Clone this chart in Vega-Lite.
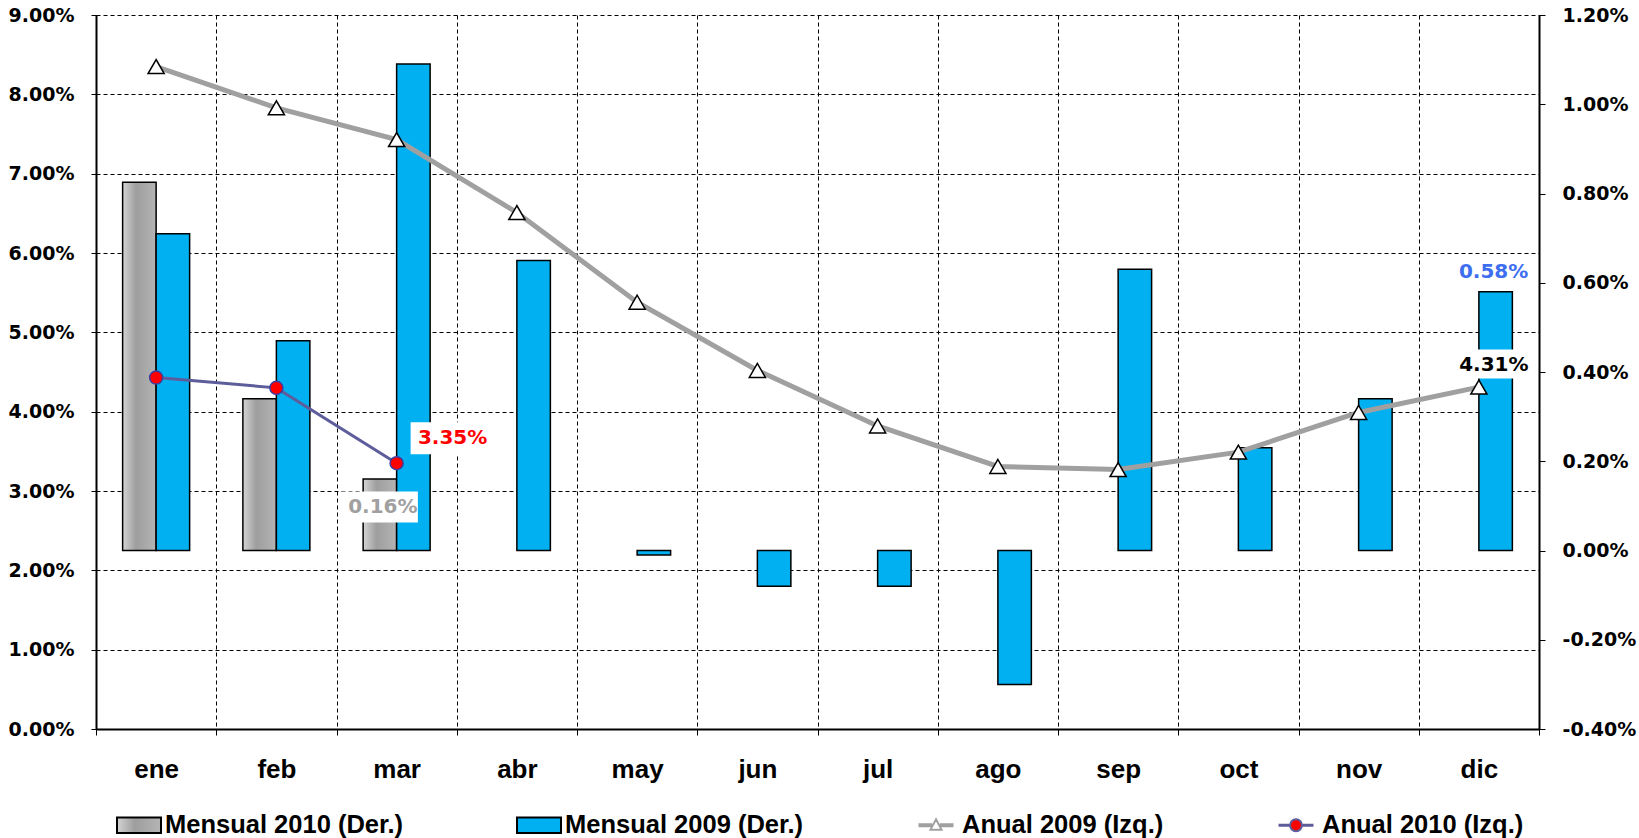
{
  "$schema": "https://vega.github.io/schema/vega-lite/v6.json",
  "width": 1443,
  "height": 714,
  "autosize": {"type": "none"},
  "padding": {"left": 96, "top": 15, "right": 100, "bottom": 109},
  "background": "white",
  "config": {
    "view": {"stroke": null},
    "axis": {"domainColor": "black", "tickColor": "black", "labelColor": "black", "labelFont": "DejaVu Sans", "labelFontWeight": "bold", "labelFontSize": 19, "title": null}
  },
  "datasets": {
    "rows": [
      {"month": "ene", "series": "Mensual 2010 (Der.)", "value": 0.00825},
      {"month": "feb", "series": "Mensual 2010 (Der.)", "value": 0.0034},
      {"month": "mar", "series": "Mensual 2010 (Der.)", "value": 0.0016},
      {"month": "ene", "series": "Mensual 2009 (Der.)", "value": 0.0071},
      {"month": "feb", "series": "Mensual 2009 (Der.)", "value": 0.0047},
      {"month": "mar", "series": "Mensual 2009 (Der.)", "value": 0.0109},
      {"month": "abr", "series": "Mensual 2009 (Der.)", "value": 0.0065},
      {"month": "may", "series": "Mensual 2009 (Der.)", "value": -0.0001},
      {"month": "jun", "series": "Mensual 2009 (Der.)", "value": -0.0008},
      {"month": "jul", "series": "Mensual 2009 (Der.)", "value": -0.0008},
      {"month": "ago", "series": "Mensual 2009 (Der.)", "value": -0.003},
      {"month": "sep", "series": "Mensual 2009 (Der.)", "value": 0.0063},
      {"month": "oct", "series": "Mensual 2009 (Der.)", "value": 0.0023},
      {"month": "nov", "series": "Mensual 2009 (Der.)", "value": 0.0034},
      {"month": "dic", "series": "Mensual 2009 (Der.)", "value": 0.0058},
      {"month": "ene", "series": "Anual 2009 (Izq.)", "value": 0.0835},
      {"month": "feb", "series": "Anual 2009 (Izq.)", "value": 0.0783},
      {"month": "mar", "series": "Anual 2009 (Izq.)", "value": 0.0743},
      {"month": "abr", "series": "Anual 2009 (Izq.)", "value": 0.0651},
      {"month": "may", "series": "Anual 2009 (Izq.)", "value": 0.0538},
      {"month": "jun", "series": "Anual 2009 (Izq.)", "value": 0.0452},
      {"month": "jul", "series": "Anual 2009 (Izq.)", "value": 0.0382},
      {"month": "ago", "series": "Anual 2009 (Izq.)", "value": 0.0331},
      {"month": "sep", "series": "Anual 2009 (Izq.)", "value": 0.0327},
      {"month": "oct", "series": "Anual 2009 (Izq.)", "value": 0.0349},
      {"month": "nov", "series": "Anual 2009 (Izq.)", "value": 0.0399},
      {"month": "dic", "series": "Anual 2009 (Izq.)", "value": 0.0431},
      {"month": "ene", "series": "Anual 2010 (Izq.)", "value": 0.0443},
      {"month": "feb", "series": "Anual 2010 (Izq.)", "value": 0.043},
      {"month": "mar", "series": "Anual 2010 (Izq.)", "value": 0.0335}
    ]
  },
  "data": {"name": "rows"},
  "encoding": {
    "x": {"field": "month", "type": "nominal", "scale": {"domain": ["ene","feb","mar","abr","may","jun","jul","ago","sep","oct","nov","dic"], "paddingInner": 0, "paddingOuter": 0},
      "axis": {"orient": "bottom", "tickBand": "extent", "grid": true, "gridColor": "black", "gridDash": [4, 3], "gridWidth": 1, "gridOpacity": 1, "domainWidth": 2, "tickSize": 6, "labelFont": "Liberation Sans", "labelFontSize": 26, "labelPadding": 21, "labelAngle": 0, "title": null}}
  },
  "layer": [
    {
      "encoding": {
        "y": {"field": "value", "type": "quantitative", "scale": {"domain": [-0.004, 0.012], "nice": false, "zero": false},
          "axis": {"orient": "right", "values": [-0.004, -0.002, 0, 0.002, 0.004, 0.006, 0.008, 0.01, 0.012], "labelExpr": "replace(format(datum.value, '.2%'), '\u2212', '-')", "grid": false, "domainWidth": 2, "tickSize": 6, "labelPadding": 17, "title": null}},
        "xOffset": {"field": "series", "type": "nominal", "scale": {"domain": ["Mensual 2010 (Der.)", "Mensual 2009 (Der.)"], "paddingInner": 0, "paddingOuter": 0.795}}
      },
      "layer": [
        {
          "transform": [{"filter": "indexof(datum.series, 'Mensual') === 0"}],
          "mark": {"type": "bar", "stroke": "black", "strokeWidth": 1.5},
          "encoding": {
            "fill": {"condition": {"test": "datum.series === 'Mensual 2010 (Der.)'", "value": {"gradient": "linear", "x1": 0, "y1": 0, "x2": 1, "y2": 0, "stops": [{"offset": 0, "color": "#d4d4d4"}, {"offset": 0.4, "color": "#9e9e9e"}, {"offset": 1, "color": "#b4b4b4"}]}}, "value": "#00B0F0"}
          }
        },
        {
          "transform": [{"filter": "datum.series === 'Mensual 2010 (Der.)' && datum.month === 'mar'"}],
          "mark": {"type": "point", "shape": "M-1,-0.408H1V0.408H-1Z", "size": 5776, "filled": true, "fill": "white", "opacity": 1, "strokeWidth": 0, "xOffset": 3, "yOffset": 28}
        },
        {
          "transform": [{"filter": "datum.series === 'Mensual 2010 (Der.)' && datum.month === 'mar'"}],
          "mark": {"type": "text", "font": "DejaVu Sans", "fontWeight": "bold", "fontSize": 20, "color": "#a0a0a0", "align": "center", "baseline": "middle", "dx": 3, "dy": 28},
          "encoding": {"text": {"field": "value", "type": "quantitative", "format": ".2%"}}
        },
        {
          "transform": [{"filter": "datum.series === 'Mensual 2009 (Der.)' && datum.month === 'dic'"}],
          "mark": {"type": "text", "font": "DejaVu Sans", "fontWeight": "bold", "fontSize": 20, "color": "#3d6ef0", "align": "center", "baseline": "middle", "dx": -2, "dy": -20},
          "encoding": {"text": {"field": "value", "type": "quantitative", "format": ".2%"}}
        }
      ]
    },
    {
      "encoding": {
        "y": {"field": "value", "type": "quantitative", "scale": {"domain": [0, 0.09], "nice": false, "zero": false},
          "axis": {"orient": "left", "values": [0, 0.01, 0.02, 0.03, 0.04, 0.05, 0.06, 0.07, 0.08, 0.09], "format": ".2%", "grid": true, "gridColor": "black", "gridDash": [4, 3], "gridWidth": 1, "gridOpacity": 1, "domainWidth": 2, "tickSize": 5, "labelPadding": 17, "title": null}}
      },
      "layer": [
        {
          "transform": [{"filter": "datum.series === 'Anual 2009 (Izq.)'"}],
          "mark": {"type": "line", "color": "#a0a0a0", "strokeWidth": 5},
          "encoding": {}
        },
        {
          "transform": [{"filter": "datum.series === 'Anual 2009 (Izq.)'"}],
          "mark": {"type": "point", "shape": "triangle-up", "size": 260, "filled": true, "fill": "white", "stroke": "black", "strokeWidth": 1.5, "opacity": 1},
          "encoding": {}
        },
        {
          "transform": [{"filter": "datum.series === 'Anual 2010 (Izq.)'"}],
          "mark": {"type": "line", "color": "#5d5d9c", "strokeWidth": 3},
          "encoding": {}
        },
        {
          "transform": [{"filter": "datum.series === 'Anual 2010 (Izq.)'"}],
          "mark": {"type": "point", "shape": "circle", "size": 170, "filled": true, "fill": "#ff0000", "stroke": "#3c3ca0", "strokeWidth": 1.5, "opacity": 1},
          "encoding": {}
        },
        {
          "transform": [{"filter": "datum.series === 'Anual 2010 (Izq.)' && datum.month === 'mar'"}],
          "mark": {"type": "point", "shape": "M-1,-0.381H1V0.381H-1Z", "size": 7056, "filled": true, "fill": "white", "opacity": 1, "strokeWidth": 0, "xOffset": 56, "yOffset": -25},
          "encoding": {}
        },
        {
          "transform": [{"filter": "datum.series === 'Anual 2010 (Izq.)' && datum.month === 'mar'"}],
          "mark": {"type": "text", "font": "DejaVu Sans", "fontWeight": "bold", "fontSize": 20, "color": "#ff0000", "align": "center", "baseline": "middle", "dx": 56, "dy": -25},
          "encoding": {"text": {"field": "value", "type": "quantitative", "format": ".2%"}}
        },
        {
          "transform": [{"filter": "datum.series === 'Anual 2009 (Izq.)' && datum.month === 'dic'"}],
          "mark": {"type": "point", "shape": "M-1,-0.414H1V0.414H-1Z", "size": 4900, "filled": true, "fill": "white", "opacity": 1, "strokeWidth": 0, "xOffset": 15, "yOffset": -23},
          "encoding": {}
        },
        {
          "transform": [{"filter": "datum.series === 'Anual 2009 (Izq.)' && datum.month === 'dic'"}],
          "mark": {"type": "text", "font": "DejaVu Sans", "fontWeight": "bold", "fontSize": 20, "color": "black", "align": "center", "baseline": "middle", "dx": 15, "dy": -22},
          "encoding": {"text": {"field": "value", "type": "quantitative", "format": ".2%"}}
        }
      ]
    },
    {
      "mark": {"type": "point", "opacity": 0, "filled": true},
      "encoding": {
        "fill": {"field": "series", "type": "nominal",
          "scale": {"domain": ["Mensual 2010 (Der.)", "Mensual 2009 (Der.)", "Anual 2009 (Izq.)", "Anual 2010 (Izq.)"],
            "range": [{"expr": "{gradient: 'linear', x1: 0, y1: 0, x2: 1, y2: 0, stops: [{offset: 0, color: '#d4d4d4'}, {offset: 0.4, color: '#9e9e9e'}, {offset: 1, color: '#b4b4b4'}]}"}, "#00B0F0", "white", "#ff0000"]},
          "legend": {
            "orient": "none", "legendX": 20, "legendY": 787, "direction": "horizontal", "columns": 4, "columnPadding": 109, "title": null, "padding": 0,
            "labelFont": "Liberation Sans", "labelFontWeight": "bold", "labelFontSize": 25.5, "labelColor": "black", "labelLimit": 400, "labelOffset": 3,
            "symbolSize": 1936, "symbolOpacity": 1, "symbolStrokeWidth": 2
          }
        },
        "shape": {"field": "series", "type": "nominal",
          "scale": {"domain": ["Mensual 2010 (Der.)", "Mensual 2009 (Der.)", "Anual 2009 (Izq.)", "Anual 2010 (Izq.)"],
            "range": ["M-1,-0.35H1V0.35H-1Z", "M-1,-0.35H1V0.35H-1Z", "M-0.75,-0.05H-0.22V0.05H-0.75ZM0.22,-0.05H0.75V0.05H0.22ZM0,-0.27L0.25,0.2L-0.25,0.2Z", "M-0.75,-0.02H-0.27V0.02H-0.75ZM0.27,-0.02H0.75V0.02H0.27ZM0.27,0A0.27,0.27 0 1,1 -0.27,0A0.27,0.27 0 1,1 0.27,0Z"]},
          "legend": {
            "orient": "none", "legendX": 20, "legendY": 787, "direction": "horizontal", "columns": 4, "columnPadding": 109, "title": null, "padding": 0,
            "labelFont": "Liberation Sans", "labelFontWeight": "bold", "labelFontSize": 25.5, "labelColor": "black", "labelLimit": 400, "labelOffset": 3,
            "symbolSize": 1936, "symbolOpacity": 1, "symbolStrokeWidth": 2
          }
        },
        "stroke": {"field": "series", "type": "nominal",
          "scale": {"domain": ["Mensual 2010 (Der.)", "Mensual 2009 (Der.)", "Anual 2009 (Izq.)", "Anual 2010 (Izq.)"],
            "range": ["black", "black", "#a0a0a0", "#5d5d9c"]},
          "legend": {
            "orient": "none", "legendX": 20, "legendY": 787, "direction": "horizontal", "columns": 4, "columnPadding": 109, "title": null, "padding": 0,
            "labelFont": "Liberation Sans", "labelFontWeight": "bold", "labelFontSize": 25.5, "labelColor": "black", "labelLimit": 400, "labelOffset": 3,
            "symbolSize": 1936, "symbolOpacity": 1, "symbolStrokeWidth": 2
          }
        }
      }
    }
  ],
  "resolve": {"scale": {"y": "independent"}, "axis": {"y": "independent"}}
}
